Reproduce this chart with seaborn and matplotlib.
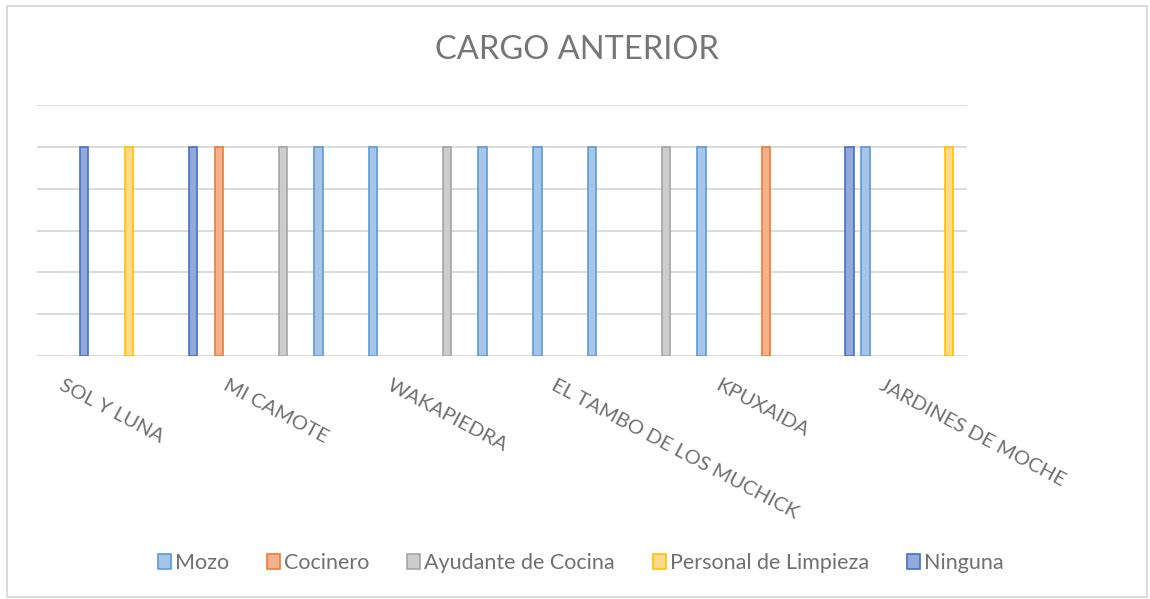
import matplotlib
matplotlib.use("Agg")
import matplotlib.pyplot as plt
import seaborn as sns
import pandas as pd
from matplotlib.patches import Rectangle, Patch
from matplotlib.colors import to_rgba

# ---- data ----
cargos = ["Mozo", "Cocinero", "Ayudante de Cocina", "Personal de Limpieza", "Ninguna"]
empleados = [f"E{i}" for i in range(1, 18)]
empleado_cargo = ["Ninguna", "Personal de Limpieza", "Ninguna", "Cocinero",
                  "Ayudante de Cocina", "Mozo", "Mozo", "Ayudante de Cocina",
                  "Mozo", "Mozo", "Mozo", "Ayudante de Cocina", "Mozo",
                  "Cocinero", "Ninguna", "Mozo", "Personal de Limpieza"]
valores = [1, 1, 1, 1, 1, 1, 1, 1, 1, 1, 1, 1, 1, 1, 1, 1, 1]
etiquetas = ["SOL Y LUNA", "", "", "MI CAMOTE", "", "", "WAKAPIEDRA", "", "",
             "EL TAMBO DE LOS MUCHICK", "", "", "KPUXAIDA", "", "",
             "JARDINES DE MOCHE", ""]
y_ticks = [0, 0.2, 0.4, 0.6, 0.8, 1.0, 1.2]

# ---- style ----
fill = {"Mozo": "#A7C5E9", "Cocinero": "#F5B18F", "Ayudante de Cocina": "#CDCDCD",
        "Personal de Limpieza": "#FFDA8C", "Ninguna": "#93A9DA"}
edge = {"Mozo": "#5B9BD5", "Cocinero": "#ED7D31", "Ayudante de Cocina": "#A5A5A5",
        "Personal de Limpieza": "#FFC000", "Ninguna": "#4472C4"}
txt = "#707070"
grid = "#D9D9D9"

sns.set_theme(style="white")
plt.rcParams["font.family"] = ["Lato", "DejaVu Sans"]

df = pd.DataFrame({"empleado": empleados, "cargo": empleado_cargo, "valor": valores})

fig = plt.figure(figsize=(11.5, 5.99), dpi=100)
ax = fig.add_axes([37 / 1150, 1 - 356 / 599, (967 - 37) / 1150, (356 - 105) / 599])

sns.barplot(data=df, x="empleado", y="valor", hue="cargo", hue_order=cargos,
            order=empleados, palette=fill, dodge=True, width=0.884,
            ax=ax, legend=False, saturation=1)

inv = {to_rgba(v)[:3]: k for k, v in fill.items()}
for p in ax.patches:
    key = tuple(p.get_facecolor()[:3])
    name = None
    for rgb, n in inv.items():
        if all(abs(a - b) < 1e-3 for a, b in zip(rgb, key)):
            name = n
    if name is None:
        continue
    w = p.get_width()
    nw = w * 0.86
    p.set_x(p.get_x() + (w - nw) / 2)
    p.set_width(nw)
    p.set_edgecolor(edge[name])
    p.set_linewidth(1.2)

ax.set_xlim(-0.5, len(empleados) - 0.5)
ax.set_ylim(0, 1.2)
ax.set_yticks(y_ticks)
ax.set_yticklabels([])
ax.yaxis.grid(True, color=grid, linewidth=1.3)
ax.set_axisbelow(True)
for s in ax.spines.values():
    s.set_visible(False)
ax.tick_params(axis="both", length=0)
ax.set_xlabel("")
ax.set_ylabel("")
ax.set_xticks(range(len(empleados)))
ax.set_xticklabels(etiquetas, rotation=-28, ha="left", va="top",
                   rotation_mode="anchor", fontsize=14.6, color=txt)
ax.tick_params(axis="x", pad=15)

fig.text(0.502, 1 - 50 / 599, "CARGO ANTERIOR", ha="center", va="center",
         fontsize=23.5, color="#767676")

handles = [Patch(facecolor=fill[c], edgecolor=edge[c], linewidth=1.2, label=c) for c in cargos]
fig.legend(handles=handles, loc="center", bbox_to_anchor=(0.505, 1 - 563 / 599),
           ncol=5, frameon=False, fontsize=15.5, handlelength=0.6, handleheight=0.7,
           handletextpad=0.2, columnspacing=1.75, labelcolor=txt)

fig.patches.append(Rectangle((7 / 1150, 1 - 597 / 599), 1140 / 1150, 591 / 599,
                             transform=fig.transFigure, fill=False,
                             edgecolor=grid, linewidth=1.3, zorder=0))

fig.savefig("out.png", dpi=100)
